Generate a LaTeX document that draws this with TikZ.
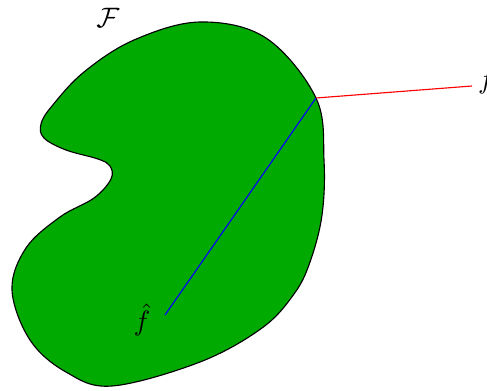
\documentclass[tikz,border=0pt]{standalone}
\usepackage{tikz}
\usetikzlibrary{positioning}
\definecolor{setgreen}{RGB}{0,170,0}
\tikzset{
  setregion/.style={draw=black, fill=setgreen, line width=0.4pt},
  residual/.style={draw=red, line width=0.4pt},
  projline/.style={draw=blue, line width=0.4pt},
  ptlabel/.style={inner sep=1pt, font=\normalsize},
}
\begin{document}
\begin{tikzpicture}[x=0.0125cm, y=-0.0125cm]
  \useasboundingbox (0,0) rectangle (487,390);
  % the set F
  \path[setregion] plot[smooth cycle, tension=0.6] coordinates {
    (200,22) (266,38) (316,98) (324,160) (322,215)
    (310,262) (294,294) (262,328) (200,362) (112,386) (66,372)
    (30,340) (12,290) (26,248) (60,217) (94,198) (111,179) (110,166)
    (98,159) (66,150) (44,138) (41,124) (52,106) (84,72) (134,40)};
  \node[ptlabel] (F) at (108,18) {$\mathcal{F}$};
  % projection of f onto F
  \coordinate (proj) at (316,98);
  \coordinate (fend) at (472,86);
  \coordinate (fhatpt) at (165,315);
  \node[ptlabel, right=1pt of fend, yshift=1.5pt] (f) {$f$};
  \node[ptlabel, left=4pt of fhatpt, yshift=-1.8pt] (fhat) {$\hat{f}$};
  \draw[residual] (proj) -- (fend);
  \draw[projline] (proj) -- (fhatpt);
\end{tikzpicture}
\end{document}
